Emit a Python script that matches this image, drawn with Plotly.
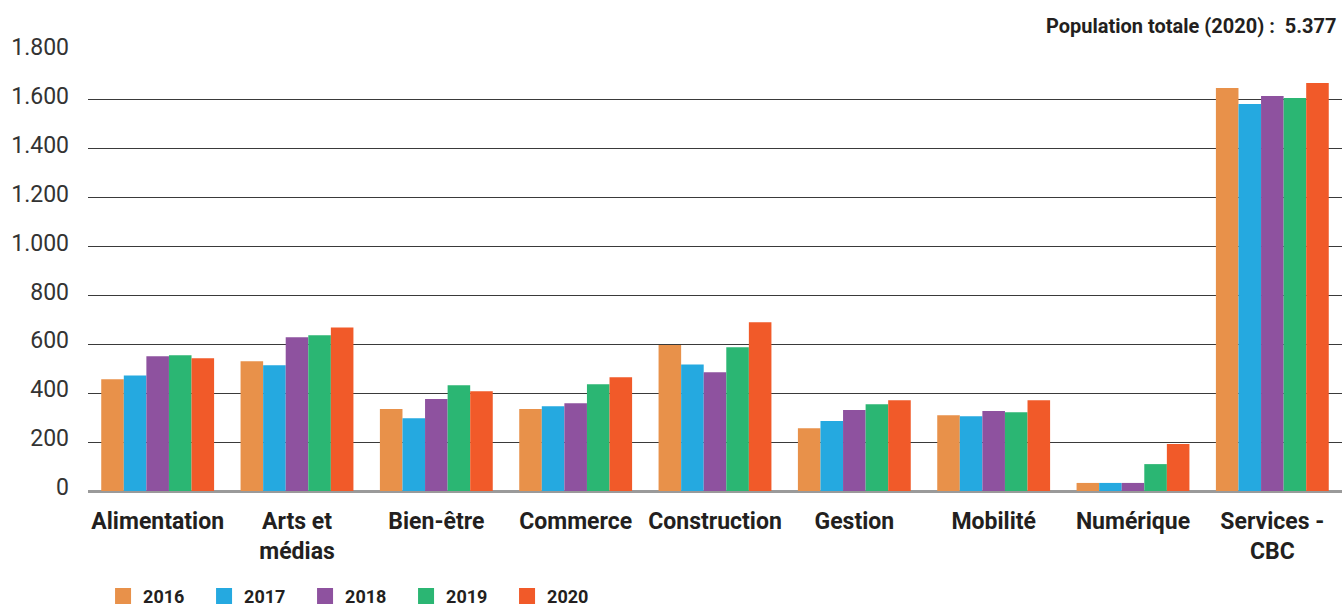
import plotly.graph_objects as go

categories = ["Alimentation", "Arts et<br>médias", "Bien-être", "Commerce", "Construction",
              "Gestion", "Mobilité", "Numérique", "Services -<br>CBC"]
years = ["2016", "2017", "2018", "2019", "2020"]

v2016 = [457, 531, 335, 335, 597, 257, 310, 33, 1649]
v2017 = [473, 514, 298, 347, 518, 286, 306, 33, 1583]
v2018 = [551, 629, 376, 359, 486, 331, 327, 33, 1616]
v2019 = [555, 637, 433, 437, 588, 355, 322, 110, 1608]
v2020 = [543, 669, 408, 465, 690, 371, 371, 192, 1669]

series = [v2016, v2017, v2018, v2019, v2020]
colors = ["#E8914A", "#25A9E0", "#8E529F", "#2BB673", "#F15A29"]

fig = go.Figure()
for year, vals, col in zip(years, series, colors):
    fig.add_trace(go.Bar(x=categories, y=vals, name=year, marker_color=col,
                         marker_line_width=0, showlegend=False, legendgroup=year))
    # legend proxy with a bigger square swatch
    fig.add_trace(go.Scatter(x=[None], y=[None], mode="markers", name=year, legendgroup=year,
                             marker=dict(symbol="square", size=21, color=col)))

fig.update_layout(
    width=1342, height=606,
    margin=dict(l=88, r=0, t=51, b=115, autoexpand=False),
    plot_bgcolor="white", paper_bgcolor="white",
    separators=",.",
    barmode="group", bargap=0.19, bargroupgap=0,
    font=dict(family="Roboto", color="#231F20"),
    legend=dict(orientation="h", x=0.012, xanchor="left", y=-0.197, yanchor="top",
                font=dict(size=18, family="Roboto", weight="bold"),
                entrywidth=56, entrywidthmode="pixels", itemsizing="trace",
                traceorder="normal"),
    annotations=[dict(text="<b>Population totale (2020) :\u00a0\u00a05.377</b>", xref="paper", yref="paper",
                      x=0.998, y=1.057, xanchor="right", yanchor="middle", showarrow=False,
                      font=dict(size=20, color="#231F20"))],
)
fig.update_xaxes(tickfont=dict(size=23, family="Roboto", weight="bold", color="#231F20"),
                 ticklabelstandoff=14, showgrid=False, showline=False)
fig.update_yaxes(range=[0, 1800], dtick=200, tickformat=",d",
                 tickfont=dict(size=23, family="Roboto", color="#333333"),
                 ticklabelstandoff=18, ticklabelshift=-4,
                 showgrid=True, gridcolor="#3a3a3a", gridwidth=1,
                 zeroline=True, zerolinecolor="#9a9a9a", zerolinewidth=2.5)

fig.write_html("out.html", config={"displayModeBar": False},
               post_script="document.body.style.margin='0';document.body.style.overflow='hidden';")
